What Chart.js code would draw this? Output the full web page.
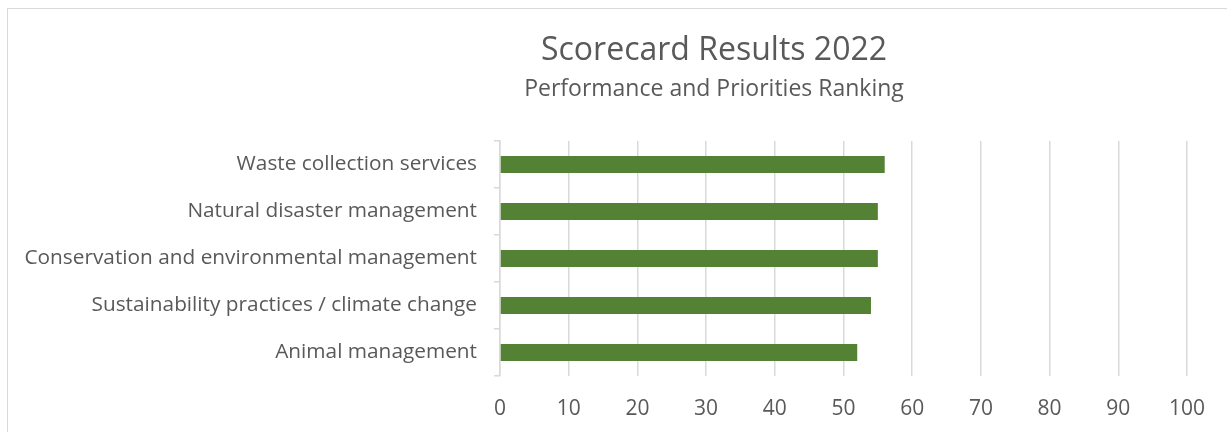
<!DOCTYPE html>
<html>
<head>
<meta charset="utf-8">
<script src="https://cdn.jsdelivr.net/npm/chart.js@4"></script>
<style>
  html, body { margin: 0; padding: 0; background: #fff; overflow: hidden; width: 1227px; height: 432px; }
  #wrap { position: absolute; left: 7px; top: 8px; width: 1412px; height: 440px; border: 1px solid #d9d9d9; background: #fff; }
  canvas { display: block; }
</style>
</head>
<body>
<div id="wrap"><canvas id="c" width="1412" height="440"></canvas></div>
<script>
const categories = [
  "Waste collection services",
  "Natural disaster management",
  "Conservation and environmental management",
  "Sustainability practices / climate change",
  "Animal management"
];
const scores = [56, 55, 55, 54, 52];
const xTicks = [0, 10, 20, 30, 40, 50, 60, 70, 80, 90, 100];
const titleText = "Scorecard Results 2022";
const subtitleText = "Performance and Priorities Ranking";

const TEXT = "#595959";
const GRID = "#d9d9d9";
const FONT = "'Open Sans', sans-serif";

new Chart(document.getElementById("c"), {
  type: "bar",
  data: {
    labels: categories,
    datasets: [{
      data: scores,
      backgroundColor: "#548235",
      borderWidth: 0,
      categoryPercentage: 1,
      barPercentage: 0.36
    }]
  },
  options: {
    indexAxis: "y",
    responsive: false,
    animation: false,
    layout: { padding: { left: 0, right: 0, top: 0, bottom: 13 } },
    plugins: {
      legend: { display: false },
      tooltip: { enabled: false },
      title: {
        display: true,
        text: titleText,
        color: TEXT,
        font: { family: FONT, size: 32, weight: "normal", lineHeight: 1.2 },
        padding: { top: 23, bottom: 0 }
      },
      subtitle: {
        display: true,
        text: subtitleText,
        color: TEXT,
        font: { family: FONT, size: 23, weight: "normal", lineHeight: 1.2 },
        padding: { top: 5, bottom: 38 }
      }
    },
    scales: {
      x: {
        type: "linear",
        min: xTicks[0],
        max: xTicks[xTicks.length - 1],
        afterBuildTicks: (s) => { s.ticks = xTicks.map(v => ({ value: v })); },
        afterFit: (s) => { s.height = 60; },
        grid: { color: GRID, lineWidth: 1.5, drawTicks: false },
        border: { display: false },
        ticks: { color: TEXT, font: { family: FONT, size: 21 }, padding: 20 }
      },
      y: {
        afterFit: (s) => { s.width = 492; },
        grid: { drawOnChartArea: false, drawTicks: true, tickLength: 6, color: GRID, lineWidth: 1.5 },
        border: { display: true, color: GRID, width: 1.5 },
        ticks: { color: TEXT, font: { family: FONT, size: 20.8 }, padding: 17 }
      },
      ySpace: {
        type: "category",
        labels: categories,
        position: "right",
        afterFit: (s) => { s.width = 233; },
        grid: { display: false },
        border: { display: false },
        ticks: { display: false }
      }
    }
  }
});
</script>
</body>
</html>
